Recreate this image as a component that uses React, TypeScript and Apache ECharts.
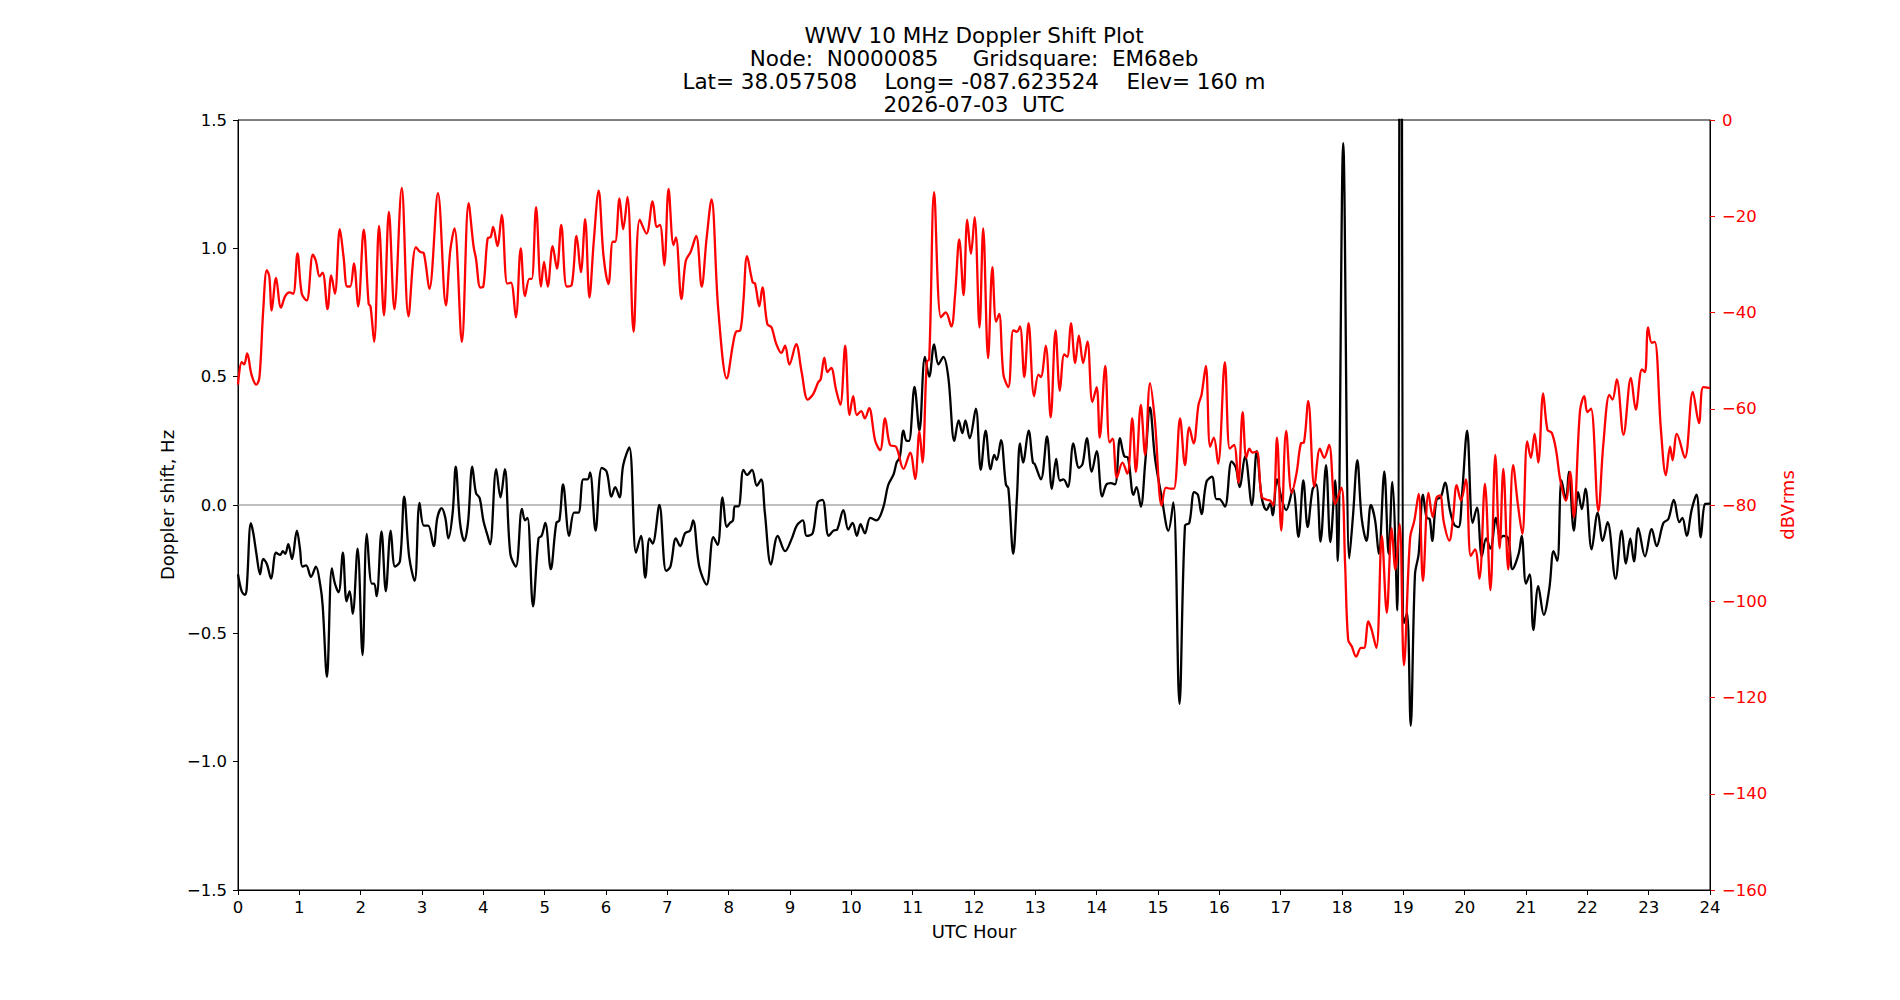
import React, { useEffect, useRef } from "react";
import * as echarts from "echarts";

// ---------- DATA ----------
const titleLines = [
  "WWV 10 MHz Doppler Shift Plot",
  "Node:  N0000085     Gridsquare:  EM68eb",
  "Lat= 38.057508    Long= -087.623524    Elev= 160 m",
  "2026-07-03  UTC",
];
const xAxisName = "UTC Hour";
const leftAxisName = "Doppler shift, Hz";
const rightAxisName = "dBVrms";

const hourRange = [0, 24, 1];
const dopplerRange = [-1.5, 1.5, 0.5];
const dbRange = [-160, 0, 20];

// Signal level (dBVrms), [UTC hour, dB]
const red0to4 = [[0.00,-55.0],[0.06,-50.3],[0.10,-50.8],[0.15,-48.5],[0.22,-52.9],[0.30,-55.0],[0.35,-53.4],[0.41,-39.8],[0.47,-31.2],[0.51,-32.5],[0.55,-39.6],[0.62,-32.8],[0.70,-39.0],[0.77,-36.6],[0.84,-35.8],[0.90,-36.1],[0.97,-27.7],[1.04,-36.1],[1.12,-37.5],[1.22,-28.0],[1.27,-29.3],[1.33,-32.5],[1.38,-31.7],[1.46,-39.3],[1.52,-32.3],[1.58,-36.1],[1.66,-22.7],[1.72,-28.3],[1.78,-34.6],[1.83,-34.6],[1.89,-29.8],[1.96,-38.7],[2.05,-22.8],[2.13,-38.2],[2.16,-38.7],[2.22,-46.1],[2.30,-22.0],[2.38,-40.6],[2.46,-19.1],[2.55,-39.3],[2.67,-14.1],[2.78,-40.8],[2.90,-26.4],[2.97,-27.4],[3.03,-27.7],[3.12,-35.1],[3.26,-15.2],[3.39,-38.5],[3.46,-27.2],[3.53,-22.5],[3.65,-46.1],[3.76,-17.3],[3.84,-26.2],[3.88,-28.8],[3.95,-34.8],[4.00,-34.6]];
const red4to8 = [[4.07,-24.6],[4.12,-24.3],[4.16,-22.2],[4.23,-26.2],[4.30,-19.7],[4.39,-34.0],[4.45,-33.8],[4.53,-41.0],[4.61,-26.7],[4.68,-36.6],[4.75,-33.0],[4.79,-33.0],[4.86,-18.1],[4.94,-34.6],[4.99,-29.5],[5.05,-34.6],[5.13,-26.2],[5.20,-30.9],[5.27,-21.8],[5.36,-34.6],[5.44,-34.3],[5.52,-24.1],[5.59,-31.6],[5.66,-20.6],[5.73,-36.9],[5.80,-25.3],[5.88,-14.7],[5.96,-28.3],[6.04,-34.1],[6.11,-25.3],[6.15,-25.3],[6.22,-16.3],[6.28,-22.7],[6.35,-16.0],[6.45,-44.0],[6.55,-20.7],[6.66,-23.6],[6.76,-16.9],[6.83,-22.2],[6.88,-21.8],[6.95,-30.2],[7.02,-14.3],[7.10,-26.0],[7.14,-24.4],[7.23,-37.2],[7.30,-29.3],[7.38,-27.4],[7.47,-24.1],[7.56,-34.6],[7.64,-24.6],[7.72,-16.5],[7.83,-39.3],[7.97,-53.7]];
const red8to12 = [[8.07,-46.6],[8.12,-44.0],[8.19,-43.7],[8.24,-37.7],[8.30,-28.3],[8.39,-33.7],[8.43,-34.0],[8.50,-38.7],[8.55,-34.8],[8.63,-42.4],[8.70,-43.1],[8.77,-46.3],[8.86,-48.4],[8.92,-46.9],[8.99,-50.8],[9.10,-46.6],[9.19,-52.4],[9.29,-58.1],[9.38,-56.9],[9.46,-54.5],[9.50,-53.9],[9.56,-49.4],[9.61,-52.4],[9.67,-51.5],[9.75,-56.0],[9.82,-59.2],[9.90,-46.9],[9.97,-61.3],[10.03,-57.4],[10.09,-61.3],[10.16,-60.5],[10.22,-62.0],[10.29,-59.9],[10.39,-66.7],[10.47,-68.6],[10.55,-62.0],[10.63,-67.5],[10.73,-67.9],[10.85,-72.5],[10.96,-69.1],[11.04,-74.6],[11.11,-64.7],[11.16,-71.2],[11.23,-50.3],[11.27,-49.7],[11.35,-15.0],[11.46,-41.0],[11.54,-40.0],[11.63,-42.9],[11.69,-36.6],[11.76,-24.8],[11.83,-36.4],[11.89,-20.7],[11.95,-27.8],[12.01,-20.2],[12.09,-43.1]];
const red12to16 = [[12.15,-22.5],[12.23,-49.5],[12.30,-30.6],[12.36,-41.9],[12.41,-40.3],[12.48,-52.9],[12.56,-55.5],[12.64,-43.7],[12.70,-44.0],[12.75,-42.9],[12.82,-53.4],[12.89,-42.2],[12.98,-57.4],[13.05,-52.9],[13.09,-53.4],[13.17,-46.9],[13.25,-61.8],[13.33,-43.7],[13.40,-56.3],[13.47,-48.7],[13.52,-49.2],[13.58,-42.2],[13.65,-50.5],[13.71,-44.8],[13.78,-50.5],[13.85,-46.0],[13.93,-58.6],[14.00,-55.5],[14.05,-66.0],[14.14,-51.1],[14.21,-67.0],[14.26,-66.2],[14.33,-74.3],[14.42,-71.2],[14.50,-73.5],[14.58,-62.0],[14.64,-73.1],[14.72,-59.2],[14.79,-69.6],[14.87,-54.7],[14.95,-62.6],[15.06,-80.1],[15.13,-76.4],[15.20,-76.6],[15.26,-76.6],[15.36,-62.0],[15.44,-71.7],[15.51,-63.9],[15.58,-67.2],[15.66,-59.2],[15.71,-57.1],[15.78,-51.1],[15.85,-67.9],[15.91,-66.0],[15.98,-71.4],[16.09,-50.3],[16.17,-68.3]];
const red16to20 = [[16.24,-67.5],[16.31,-75.4],[16.38,-60.7],[16.44,-70.2],[16.49,-68.3],[16.54,-69.1],[16.61,-68.9],[16.69,-78.3],[16.77,-78.9],[16.83,-79.1],[16.88,-80.1],[16.94,-66.0],[17.01,-85.3],[17.09,-64.6],[17.18,-77.5],[17.26,-73.3],[17.33,-67.2],[17.38,-67.0],[17.45,-58.4],[17.55,-76.2],[17.64,-68.3],[17.71,-70.2],[17.79,-67.5],[17.89,-79.8],[17.99,-76.4],[18.05,-92.1],[18.10,-108.0],[18.16,-109.4],[18.23,-111.5],[18.31,-109.7],[18.36,-109.7],[18.43,-104.2],[18.48,-105.8],[18.56,-109.7],[18.65,-86.4],[18.73,-102.4],[18.81,-84.8],[18.87,-93.4],[18.94,-84.0],[19.01,-113.3],[19.11,-86.9],[19.18,-83.2],[19.25,-77.7],[19.32,-95.8],[19.41,-77.5],[19.48,-82.5],[19.54,-78.5],[19.60,-78.0],[19.66,-83.6],[19.75,-87.4],[19.81,-82.7],[19.87,-75.9],[19.94,-79.1],[20.02,-74.7],[20.10,-90.6],[20.17,-89.2],[20.24,-95.3],[20.33,-75.6]];
const red20to24 = [[20.42,-97.7],[20.50,-69.6],[20.57,-89.0],[20.63,-72.5],[20.71,-93.4],[20.79,-71.7],[20.87,-80.1],[20.94,-86.0],[21.02,-66.8],[21.08,-70.2],[21.14,-65.2],[21.20,-71.2],[21.28,-56.8],[21.35,-64.4],[21.42,-65.0],[21.49,-68.6],[21.56,-74.9],[21.65,-79.1],[21.72,-73.1],[21.78,-82.5],[21.88,-60.5],[21.95,-57.4],[22.00,-60.7],[22.06,-60.0],[22.18,-81.2],[22.26,-67.5],[22.36,-57.1],[22.41,-58.1],[22.48,-53.9],[22.59,-65.4],[22.71,-53.6],[22.79,-60.2],[22.89,-51.8],[22.94,-52.4],[22.99,-43.1],[23.05,-46.3],[23.10,-46.1],[23.20,-64.4],[23.28,-73.8],[23.35,-67.9],[23.39,-70.7],[23.46,-65.2],[23.59,-70.2],[23.72,-56.5],[23.82,-63.0],[23.89,-55.5],[24.00,-55.7]];

// Doppler shift (Hz), [UTC hour, Hz]
const black0to4 = [[0.00,-0.27],[0.06,-0.336],[0.11,-0.35],[0.14,-0.33],[0.21,-0.071],[0.25,-0.11],[0.30,-0.19],[0.36,-0.27],[0.41,-0.21],[0.47,-0.23],[0.54,-0.287],[0.62,-0.186],[0.69,-0.194],[0.73,-0.18],[0.77,-0.19],[0.82,-0.153],[0.88,-0.21],[0.96,-0.10],[1.01,-0.17],[1.05,-0.24],[1.11,-0.235],[1.19,-0.28],[1.27,-0.24],[1.34,-0.31],[1.38,-0.39],[1.45,-0.67],[1.53,-0.247],[1.58,-0.306],[1.64,-0.34],[1.71,-0.186],[1.77,-0.375],[1.82,-0.336],[1.87,-0.424],[1.95,-0.17],[2.03,-0.585],[2.10,-0.113],[2.18,-0.306],[2.22,-0.306],[2.26,-0.355],[2.34,-0.103],[2.41,-0.336],[2.49,-0.10],[2.56,-0.24],[2.64,-0.22],[2.71,0.033],[2.79,-0.20],[2.88,-0.296],[2.96,0.008],[3.03,-0.08],[3.10,-0.08],[3.19,-0.16],[3.25,-0.05],[3.32,-0.012],[3.38,-0.05],[3.43,-0.13],[3.50,-0.03],[3.55,0.149],[3.62,-0.07],[3.69,-0.14],[3.75,-0.07],[3.82,0.149],[3.88,0.047],[3.94,0.027],[4.00,-0.06]];
const black4to8 = [[4.07,-0.12],[4.11,-0.153],[4.21,0.14],[4.28,0.03],[4.35,0.14],[4.44,-0.19],[4.53,-0.24],[4.63,-0.015],[4.68,-0.06],[4.72,-0.05],[4.81,-0.395],[4.90,-0.13],[4.95,-0.12],[5.01,-0.07],[5.10,-0.25],[5.19,-0.07],[5.24,-0.06],[5.30,0.08],[5.40,-0.12],[5.48,-0.03],[5.55,-0.03],[5.63,0.10],[5.70,0.10],[5.74,0.127],[5.83,-0.10],[5.93,0.145],[6.01,0.13],[6.09,0.033],[6.15,0.07],[6.22,0.03],[6.28,0.155],[6.38,0.224],[6.49,-0.186],[6.57,-0.12],[6.64,-0.283],[6.71,-0.13],[6.76,-0.15],[6.87,0.0],[6.98,-0.257],[7.05,-0.24],[7.14,-0.13],[7.21,-0.16],[7.29,-0.11],[7.37,-0.10],[7.42,-0.06],[7.52,-0.24],[7.64,-0.31],[7.75,-0.125],[7.82,-0.155],[7.90,0.03],[7.97,-0.085]];
const black8to12 = [[8.02,-0.07],[8.07,-0.06],[8.10,-0.005],[8.16,-0.005],[8.24,0.137],[8.30,0.117],[8.38,0.137],[8.46,0.075],[8.53,0.10],[8.59,-0.03],[8.69,-0.232],[8.80,-0.12],[8.92,-0.18],[9.03,-0.13],[9.11,-0.08],[9.21,-0.06],[9.27,-0.12],[9.37,-0.11],[9.45,0.01],[9.53,0.02],[9.63,-0.12],[9.71,-0.10],[9.77,-0.095],[9.87,-0.02],[9.95,-0.095],[10.02,-0.07],[10.09,-0.12],[10.15,-0.075],[10.22,-0.11],[10.31,-0.05],[10.41,-0.06],[10.52,-0.01],[10.60,0.077],[10.69,0.12],[10.74,0.167],[10.79,0.186],[10.85,0.29],[10.90,0.25],[10.94,0.25],[11.03,0.46],[11.11,0.29],[11.20,0.577],[11.27,0.50],[11.35,0.626],[11.42,0.548],[11.50,0.577],[11.58,0.50],[11.68,0.25],[11.75,0.33],[11.81,0.28],[11.86,0.33],[11.93,0.26],[12.03,0.375],[12.11,0.137],[12.19,0.29]];
const black12to16 = [[12.27,0.139],[12.33,0.195],[12.37,0.175],[12.44,0.253],[12.52,0.08],[12.56,0.065],[12.64,-0.19],[12.70,0.03],[12.75,0.24],[12.80,0.165],[12.89,0.29],[12.96,0.165],[12.99,0.16],[13.09,0.10],[13.19,0.267],[13.27,0.063],[13.34,0.18],[13.40,0.095],[13.46,0.10],[13.53,0.07],[13.62,0.24],[13.71,0.145],[13.77,0.16],[13.84,0.26],[13.92,0.13],[14.00,0.21],[14.09,0.033],[14.16,0.08],[14.23,0.085],[14.30,0.08],[14.38,0.26],[14.45,0.19],[14.51,0.185],[14.60,0.04],[14.65,0.07],[14.72,-0.006],[14.79,0.16],[14.87,0.38],[14.95,0.185],[15.06,0.03],[15.17,-0.10],[15.25,0.01],[15.35,-0.775],[15.44,-0.08],[15.51,-0.07],[15.59,0.05],[15.65,0.04],[15.71,-0.035],[15.79,0.09],[15.88,0.11],[15.95,0.023],[16.00,0.023],[16.09,-0.006],[16.20,0.17],[16.27,0.145],[16.33,0.07]];
const black16to20 = [[16.42,0.19],[16.53,0.0],[16.61,0.21],[16.69,0.03],[16.77,-0.02],[16.83,0.006],[16.87,-0.04],[16.94,0.10],[17.02,0.02],[17.09,-0.02],[17.20,0.063],[17.29,-0.124],[17.37,0.096],[17.44,-0.086],[17.52,0.06],[17.58,0.08],[17.65,-0.143],[17.74,0.155],[17.81,-0.145],[17.89,0.096],[17.93,-0.218],[18.02,1.41],[18.12,-0.208],[18.18,-0.04],[18.25,0.175],[18.32,-0.05],[18.40,-0.14],[18.47,0.0],[18.54,-0.06],[18.60,-0.19],[18.69,0.131],[18.76,-0.19],[18.82,0.09],[18.90,-0.41],[18.955,4.0],[19.01,-0.46],[19.06,-0.42],[19.12,-0.86],[19.19,-0.27],[19.25,-0.19],[19.32,0.04],[19.38,-0.05],[19.43,-0.055],[19.47,-0.14],[19.54,0.02],[19.61,0.03],[19.68,0.087],[19.76,-0.02],[19.83,-0.077],[19.90,-0.086],[19.96,0.05],[20.04,0.29],[20.13,-0.07]];
const black20to24 = [[20.20,-0.01],[20.28,-0.20],[20.35,-0.13],[20.42,-0.17],[20.51,-0.05],[20.58,-0.13],[20.63,-0.12],[20.71,-0.13],[20.78,-0.25],[20.88,-0.19],[20.93,-0.12],[21.00,-0.306],[21.06,-0.27],[21.12,-0.487],[21.20,-0.316],[21.29,-0.428],[21.38,-0.326],[21.45,-0.18],[21.51,-0.218],[21.58,0.096],[21.65,0.02],[21.70,0.13],[21.78,-0.10],[21.85,0.05],[21.91,-0.016],[21.97,0.064],[22.07,-0.173],[22.17,-0.03],[22.25,-0.14],[22.33,-0.067],[22.46,-0.287],[22.56,-0.10],[22.63,-0.228],[22.70,-0.13],[22.76,-0.22],[22.83,-0.09],[22.94,-0.20],[23.05,-0.094],[23.13,-0.16],[23.24,-0.07],[23.32,-0.055],[23.41,0.02],[23.50,-0.067],[23.55,-0.05],[23.62,-0.12],[23.70,-0.02],[23.78,0.04],[23.85,-0.126],[23.92,0.004],[24.00,0.005]];

const redData = [...red0to4, ...red4to8, ...red8to12, ...red12to16, ...red16to20, ...red20to24];
const blackData = [...black0to4, ...black4to8, ...black8to12, ...black12to16, ...black16to20, ...black20to24];
const zeroLine = [[0, 0], [24, 0]];

// ---------- STYLE ----------
const FONT = "DejaVu Sans";
const MINUS = "\u2212";
const fmt = (v: number, d: number) => (v < 0 ? MINUS + Math.abs(v).toFixed(d) : v.toFixed(d));

export default function App() {
  const ref = useRef<HTMLDivElement>(null);
  useEffect(() => {
    document.body.style.margin = "0";
    const chart = echarts.init(ref.current!, null, { renderer: "svg" });
    const plotCenterX = 974;
    const titleY = [35, 58, 81, 104];
    chart.setOption({
      animation: false,
      backgroundColor: "#ffffff",
      graphic: titleLines.map((t, i) => ({
        type: "text",
        x: plotCenterX,
        y: titleY[i],
        silent: true,
        style: {
          text: t,
          align: "center",
          verticalAlign: "middle",
          fontSize: 21.5,
          fontFamily: FONT,
          fill: "#000",
        },
      })),
      grid: {
        left: 238,
        right: 190,
        top: 120,
        height: 770,
        show: true,
        borderColor: "#000",
        borderWidth: 1,
        backgroundColor: "transparent",
      },
      xAxis: {
        type: "value",
        min: hourRange[0],
        max: hourRange[1],
        interval: hourRange[2],
        name: xAxisName,
        nameLocation: "middle",
        nameGap: 32,
        nameTextStyle: { fontSize: 18, fontFamily: FONT, color: "#000" },
        axisLine: { show: true, onZero: false, lineStyle: { color: "#000", width: 1 } },
        axisTick: { show: true, inside: false, length: 5, lineStyle: { color: "#000", width: 1 } },
        axisLabel: { fontSize: 16.5, fontFamily: FONT, color: "#000", margin: 9, formatter: (v: number) => fmt(v, 0) },
        splitLine: { show: false },
      },
      yAxis: [
        {
          type: "value",
          position: "left",
          min: dopplerRange[0],
          max: dopplerRange[1],
          interval: dopplerRange[2],
          name: leftAxisName,
          nameLocation: "middle",
          nameRotate: 90,
          nameGap: 62,
          nameTextStyle: { fontSize: 18, fontFamily: FONT, color: "#000" },
          axisLine: { show: true, onZero: false, lineStyle: { color: "#000", width: 1 } },
          axisTick: { show: true, inside: false, length: 5, lineStyle: { color: "#000", width: 1 } },
          axisLabel: { fontSize: 16.5, fontFamily: FONT, color: "#000", margin: 11, formatter: (v: number) => fmt(v, 1) },
          splitLine: { show: false },
        },
        {
          type: "value",
          position: "right",
          min: dbRange[0],
          max: dbRange[1],
          interval: dbRange[2],
          name: rightAxisName,
          nameLocation: "middle",
          nameRotate: 90,
          nameGap: 61,
          nameTextStyle: { fontSize: 18, fontFamily: FONT, color: "#ff0000" },
          axisLine: { show: true, onZero: false, lineStyle: { color: "#000", width: 1 } },
          axisTick: { show: true, inside: false, length: 5, lineStyle: { color: "#ff0000", width: 1 } },
          axisLabel: { fontSize: 16.5, fontFamily: FONT, color: "#ff0000", margin: 12, formatter: (v: number) => fmt(v, 0) },
          splitLine: { show: false },
        },
      ],
      series: [
        {
          type: "line",
          data: zeroLine,
          yAxisIndex: 0,
          showSymbol: false,
          silent: true,
          z: 1,
          lineStyle: { color: "#808080", width: 1 },
        },
        {
          type: "line",
          data: blackData,
          yAxisIndex: 0,
          showSymbol: false,
          smooth: 0.35,
          clip: true,
          z: 2,
          lineStyle: { color: "#000000", width: 2.3 },
        },
        {
          type: "line",
          data: redData,
          yAxisIndex: 1,
          showSymbol: false,
          smooth: 0.35,
          clip: true,
          z: 3,
          lineStyle: { color: "#ff0000", width: 2.3 },
        },
      ],
    });
    return () => chart.dispose();
  }, []);
  return <div ref={ref} style={{ width: 1900, height: 1000 }} />;
}
